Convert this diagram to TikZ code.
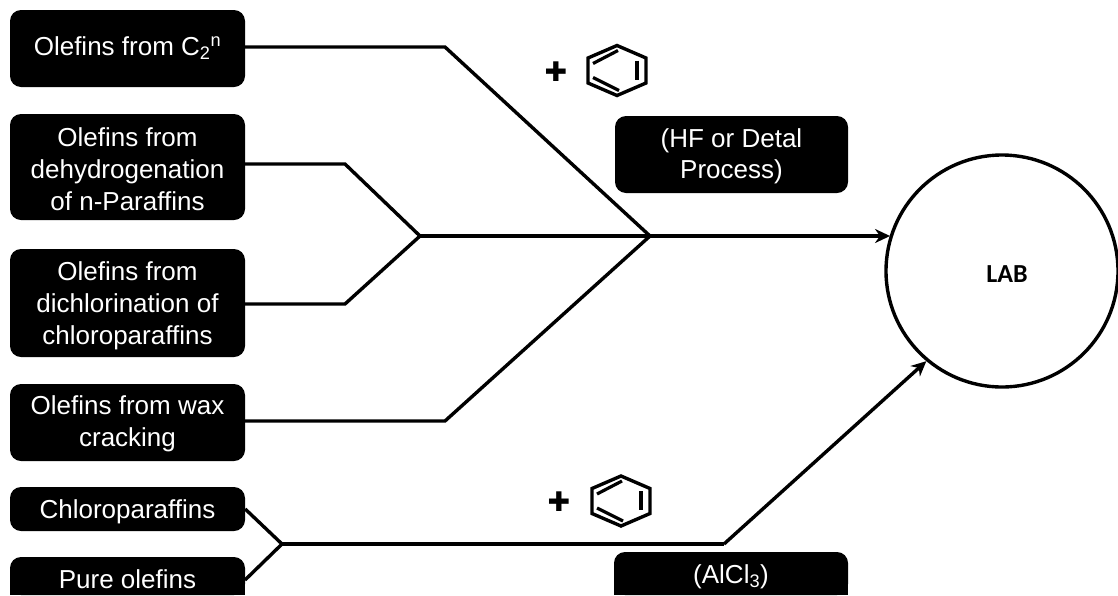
\documentclass[tikz,border=0pt]{standalone}
\usepackage{fontspec}
\setmainfont{Liberation Sans}
\newfontfamily\labfont{Carlito}
\newfontfamily\symfont{DejaVu Sans}
\usetikzlibrary{arrows.meta,calc}
\tikzset{
  x=1pt,y=-1pt,
  srcbox/.style={fill=black,text=white,rounded corners=11pt,minimum width=235pt,inner sep=0pt,align=center,font=\fontsize{26}{32}\selectfont},
  conn/.style={line width=3.4pt,draw=black,line join=miter},
  arrowconn/.style={conn,-{Stealth[length=15pt,width=14pt]}},
  ringline/.style={line width=3.4pt,draw=black,line join=miter},
  bondline/.style={line width=3.2pt,draw=black},
  plussign/.style={font=\symfont\fontsize{27}{27}\selectfont,inner sep=0pt,text=black},
  labcircle/.style={circle,draw=black,line width=3.4pt,minimum size=232pt,inner sep=0pt},
  labtext/.style={font=\labfont\bfseries\fontsize{26}{28}\selectfont,inner sep=0pt,text=black}
}
\newcommand{\benzene}[1]{%
  \draw[ringline] ($(#1)+(0,-25)$) -- ($(#1)+(29,-12.5)$) -- ($(#1)+(29,12.5)$) -- ($(#1)+(0,25)$) -- ($(#1)+(-29,12.5)$) -- ($(#1)+(-29,-12.5)$) -- cycle;
  \draw[bondline] ($(#1)+(-24,-7)$) -- ($(#1)+(1,-20)$);
  \draw[bondline] ($(#1)+(20,-10)$) -- ($(#1)+(20,9)$);
  \draw[bondline] ($(#1)+(-24,7)$) -- ($(#1)+(2,20)$);
}
\newcommand{\pad}[1]{\rule{0pt}{#1}}
\begin{document}
\begin{tikzpicture}
\clip (0,0) rectangle (1118,595);
\fill[white] (0,0) rectangle (1118,595);
\fill[black] (10,580) rectangle (245,595);
\fill[black] (614,575) rectangle (848,595);
\node[srcbox,minimum height=77pt] (a) at (127.5,48.5) {Olefins from C\textsubscript{2}\textsuperscript{n}};
\node[srcbox,minimum height=106pt] (b) at (127.5,167) {\pad{24pt}Olefins from\\dehydrogenation\\of n-Paraffins};
\node[srcbox,minimum height=108pt] (c) at (127.5,303) {\pad{25pt}Olefins from\\dichlorination of\\chloroparaffins};
\node[srcbox,minimum height=77pt] (d) at (127.5,422.5) {\pad{21pt}Olefins from wax\\cracking};
\node[srcbox,minimum height=44pt] (e) at (127.5,509) {\pad{24pt}Chloroparaffins};
\node[srcbox,minimum height=38pt] (f) at (127.5,576) {\pad{26pt}Pure olefins};
\node[srcbox,minimum width=233pt,minimum height=77pt,font=\fontsize{26}{31}\selectfont] (hf) at (731.5,154.5) {\pad{21.5pt}(HF or Detal\\Process)};
\node[srcbox,minimum width=234pt,minimum height=43pt] (al) at (731,573.5) {\pad{25pt}(AlCl\textsubscript{3})};
\node[labcircle] (lab) at (1002,271) {};
\node[labtext] (labt) at (1007,274) {LAB};

\coordinate (a1) at (445,47);
\coordinate (b1) at (345,164);
\coordinate (c1) at (345,304);
\coordinate (d1) at (445,421);
\coordinate (j1) at (420,236);
\coordinate (j2) at (650,236);
\coordinate (j3) at (282,544);
\coordinate (k1) at (724,544);
\coordinate (fe) at (245,580);

\draw[conn] (a.east |- a1) -- (a1) -- (j2);
\draw[conn] (b.east |- b1) -- (b1) -- (j1);
\draw[conn] (c.east |- c1) -- (c1) -- (j1);
\draw[conn] (d.east |- d1) -- (d1) -- (j2);
\draw[conn] (e.east) -- (j3);
\draw[conn] (fe) -- (j3);
\draw[conn] (j1) -- (j2);
\draw[arrowconn] (j2) -- (lab.162.44 |- j2);
\draw[conn] (j3) -- (k1);
\draw[arrowconn] (k1) -- (lab.230);

\coordinate (bz1) at (617,70.5);
\benzene{bz1}
\coordinate (bz2) at (621,501);
\benzene{bz2}
\node[plussign] (p1) at (556,72) {✚};
\node[plussign] (p2) at (559,502) {✚};
\end{tikzpicture}
\end{document}
